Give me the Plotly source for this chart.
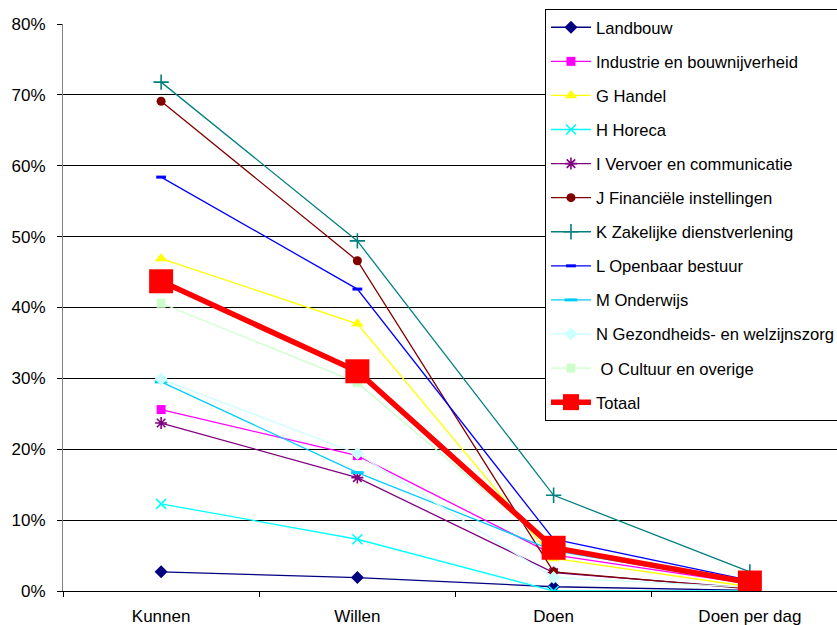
import plotly.graph_objects as go

categories = ["Kunnen", "Willen", "Doen", "Doen per dag"]

landbouw = [0.027, 0.019, 0.006, 0.001]
industrie = [0.256, 0.191, 0.051, 0.010]
handel = [0.469, 0.377, 0.046, 0.006]
horeca = [0.123, 0.073, 0.000, 0.000]
vervoer = [0.237, 0.160, 0.026, 0.004]
financieel = [0.691, 0.466, 0.027, 0.003]
zakelijk = [0.718, 0.494, 0.135, 0.027]
openbaar = [0.584, 0.426, 0.073, 0.015]
onderwijs = [0.295, 0.167, 0.057, 0.011]
gezondheid = [0.299, 0.194, 0.019, 0.005]
cultuur = [0.406, 0.294, 0.059, 0.013]
totaal = [0.437, 0.310, 0.061, 0.012]

y_ticks = [0, 0.1, 0.2, 0.3, 0.4, 0.5, 0.6, 0.7, 0.8]

series = [
    ("Landbouw", landbouw, "#000080", "diamond", 10, 1.3),
    ("Industrie en bouwnijverheid", industrie, "#FF00FF", "square", 9, 1.3),
    ("G Handel", handel, "#FFFF00", "triangle-up", 11, 1.3),
    ("H Horeca", horeca, "#00FFFF", "x-thin", 10, 1.3),
    ("I Vervoer en communicatie", vervoer, "#800080", "asterisk", 10, 1.3),
    ("J Financiële instellingen", financieel, "#800000", "circle", 9, 1.3),
    ("K Zakelijke dienstverlening", zakelijk, "#008080", "cross-thin", 11, 1.3),
    ("L Openbaar bestuur", openbaar, "#0000FF", "line-ew", 7, 1.3),
    ("M Onderwijs", onderwijs, "#00CCFF", "line-ew", 9, 1.3),
    ("N Gezondheids- en welzijnszorg", gezondheid, "#CCFFFF", "diamond", 10, 1.3),
    ("\u00a0O Cultuur en overige", cultuur, "#CCFFCC", "square", 9, 1.3),
    ("Totaal", totaal, "#FF0000", "square", 24, 5.5),
]

open_symbols = {"x-thin", "asterisk", "cross-thin", "line-ew"}

fig = go.Figure()
for i, (name, vals, color, symbol, size, lw) in enumerate(series):
    if symbol in open_symbols:
        marker = dict(symbol=symbol, size=size, color=color,
                      line=dict(color=color, width=1.6 if symbol != "line-ew" else 3))
    else:
        marker = dict(symbol=symbol, size=size, color=color, line=dict(width=0))
    fig.add_trace(go.Scatter(
        x=categories, y=vals, name=name, mode="lines+markers",
        line=dict(color=color, width=lw), marker=marker,
        legendgroup=f"g{i}",
    ))

font_family = "Liberation Sans, Arial, sans-serif"

fig.update_layout(
    width=837, height=625,
    margin=dict(l=63, r=0, t=24, b=34, autoexpand=False),
    paper_bgcolor="white", plot_bgcolor="white",
    font=dict(family=font_family, size=17, color="black"),
    showlegend=True,
    legend=dict(
        x=0.6227, y=1.0265, xanchor="left", yanchor="top",
        bgcolor="white", bordercolor="black", borderwidth=1,
        font=dict(family=font_family, size=16.6, color="black"),
        traceorder="grouped", tracegroupgap=9.5,
        itemwidth=40, maxheight=600,
    ),
    xaxis=dict(
        type="category", range=[-0.5, 3.444],
        tickson="boundaries", ticks="outside", ticklen=5, tickcolor="black",
        showline=True, linecolor="black", linewidth=1,
        showgrid=False, zeroline=False, ticklabelstandoff=10,
        tickfont=dict(family=font_family, size=17, color="black"),
    ),
    yaxis=dict(
        range=[0, 0.8], tickvals=y_ticks, tickformat=".0%",
        ticks="outside", ticklen=5, tickcolor="black",
        showline=True, linecolor="#808080", linewidth=1,
        showgrid=True, gridcolor="black", gridwidth=1,
        zeroline=False, ticklabelstandoff=8,
        tickfont=dict(family=font_family, size=17, color="black"),
    ),
)

fig.write_html("out.html")
